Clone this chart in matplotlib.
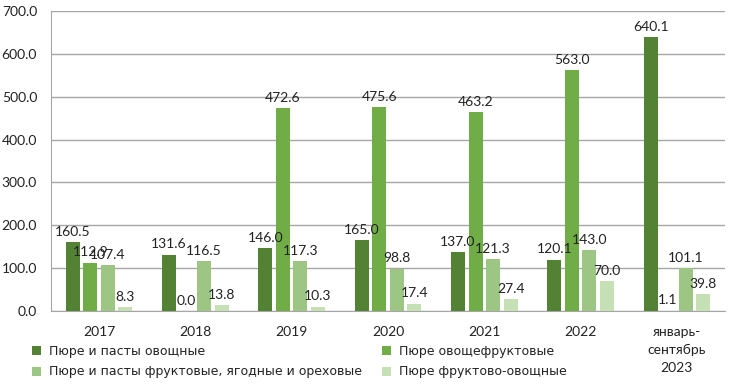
import matplotlib
matplotlib.use("Agg")
import matplotlib.pyplot as plt
import numpy as np

categories = ["2017", "2018", "2019", "2020", "2021", "2022", "январь-\nсентябрь\n2023"]
series_names = ["Пюре и пасты овощные", "Пюре овощефруктовые",
                "Пюре и пасты фруктовые, ягодные и ореховые", "Пюре фруктово-овощные"]
s1 = [160.5, 131.6, 146.0, 165.0, 137.0, 120.1, 640.1]
s2 = [112.9, 0.0, 472.6, 475.6, 463.2, 563.0, 1.1]
s3 = [107.4, 116.5, 117.3, 98.8, 121.3, 143.0, 101.1]
s4 = [8.3, 13.8, 10.3, 17.4, 27.4, 70.0, 39.8]
colors = ["#548235", "#70AD47", "#9DC584", "#C5E0B4"]

fig = plt.figure(figsize=(7.3, 3.85), dpi=100)
ax = fig.add_axes([51/730, 1-311/385, 674/730, 300/385])

x = np.arange(len(categories))
w = 0.145
step = 0.182
allv = [s1, s2, s3, s4]
handles = []
for i, vals in enumerate(allv):
    off = (i - 1.5) * step
    b = ax.bar(x + off, vals, width=w, color=colors[i], label=series_names[i], zorder=3)
    handles.append(b)
    for xi, v in zip(x, vals):
        ax.annotate(f"{v:.1f}", (xi + off, v), xytext=(0, 3), textcoords="offset points",
                    ha="center", va="bottom", fontsize=10, family="Lato", color="#222222", zorder=4)

ax.set_xlim(-0.5, len(categories) - 0.5)
ax.set_ylim(0, 700)
ax.set_yticks(np.arange(0, 701, 100))
ax.set_yticklabels([f"{v:.1f}" for v in np.arange(0, 701, 100)], family="Lato", fontsize=10, color="#222222")
ax.set_xticks(x)
ax.set_xticklabels(categories, family="Lato", fontsize=10, color="#222222", va="top")
for lbl in ax.get_xticklabels():
    lbl.set_linespacing(1.6)
ax.tick_params(axis="x", length=0, pad=11)
ax.tick_params(axis="y", length=0, pad=10)
ax.yaxis.grid(True, color="#A6A6A6", linewidth=1, zorder=0)
for s in ["top", "right"]:
    ax.spines[s].set_visible(False)
ax.spines["left"].set_color("#A6A6A6")
ax.spines["bottom"].set_color("#A6A6A6")

order = [0, 2, 1, 3]
leg = fig.legend([handles[i] for i in order], [series_names[i] for i in order], ncol=2,
                 loc="upper left", bbox_to_anchor=(32/730, 1-345/385), frameon=False,
                 fontsize=9.0, handlelength=0.75, handleheight=0.75, handletextpad=0.6,
                 columnspacing=1.6, labelspacing=0.6, borderaxespad=0, borderpad=0)
for t in leg.get_texts():
    t.set_color("#222222")

fig.savefig("out.png", dpi=100)
